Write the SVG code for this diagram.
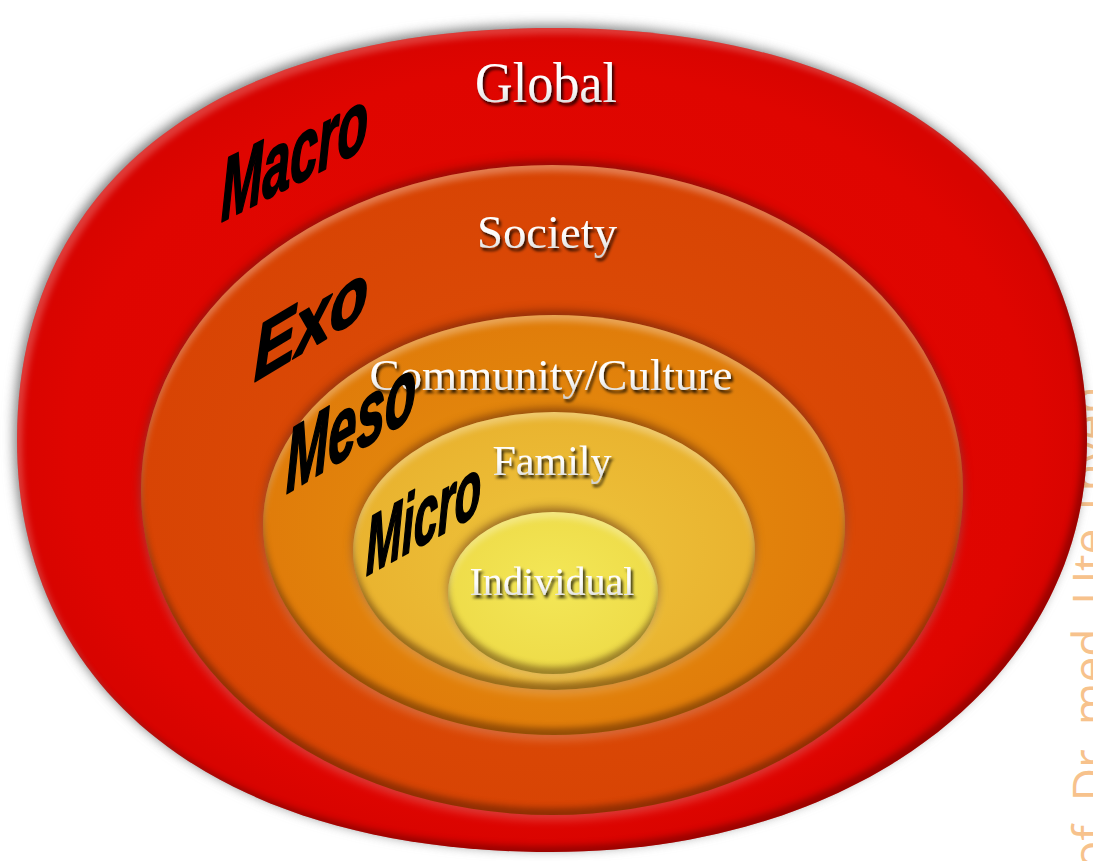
<svg xmlns="http://www.w3.org/2000/svg" width="1093" height="861" viewBox="0 0 1093 861">
  <defs>
    <style>
      .ser { font-family: "Liberation Serif", "Times New Roman", serif; text-anchor: middle; fill: url(#txtg); filter: url(#tsh); }
      .lv { font-family: "Liberation Sans Narrow", "Liberation Sans", Arial, sans-serif; font-weight: bold; font-style: italic; fill: #000; stroke: #000; stroke-width: 2.2; stroke-linejoin: round; }
      .wm { font-family: "Open Sans", "Liberation Sans", sans-serif; font-size: 46px; fill: #f7c28c; }
    </style>
    <linearGradient id="txtg" x1="0" y1="0" x2="0" y2="1">
      <stop offset="0" stop-color="#ffffff"/>
      <stop offset="0.55" stop-color="#fbfbfb"/>
      <stop offset="1" stop-color="#cfcfcf"/>
    </linearGradient>
    <radialGradient id="gRed" cx="0.5" cy="0.5" r="0.5">
      <stop offset="0" stop-color="#e20a02"/>
      <stop offset="0.9" stop-color="#df0500"/>
      <stop offset="1" stop-color="#d80400"/>
    </radialGradient>
    <radialGradient id="gSoc" cx="0.5" cy="0.5" r="0.5">
      <stop offset="0" stop-color="#de5008"/>
      <stop offset="1" stop-color="#d84404"/>
    </radialGradient>
    <radialGradient id="gCom" cx="0.5" cy="0.5" r="0.5">
      <stop offset="0" stop-color="#e6920f"/>
      <stop offset="1" stop-color="#e07c0a"/>
    </radialGradient>
    <radialGradient id="gFam" cx="0.5" cy="0.5" r="0.5">
      <stop offset="0" stop-color="#eec43c"/>
      <stop offset="1" stop-color="#e9b32f"/>
    </radialGradient>
    <radialGradient id="gInd" cx="0.5" cy="0.45" r="0.55">
      <stop offset="0" stop-color="#f3e757"/>
      <stop offset="1" stop-color="#eedb48"/>
    </radialGradient>
    <filter id="tsh" x="-10%" y="-30%" width="125%" height="170%">
      <feDropShadow dx="2" dy="3" stdDeviation="1.4" flood-color="#000" flood-opacity="0.85"/>
    </filter>
    <filter id="outer" x="-5%" y="-6%" width="110%" height="112%" color-interpolation-filters="sRGB">
      <feGaussianBlur in="SourceAlpha" stdDeviation="6" result="blur"/>
      <feOffset in="blur" dx="-3" dy="-3" result="sh"/>
      <feFlood flood-color="#555" flood-opacity="0.75"/>
      <feComposite in2="sh" operator="in" result="shadow"/>
      <feGaussianBlur in="SourceAlpha" stdDeviation="3" result="b2"/>
      <feOffset in="b2" dx="5" dy="6" result="o2"/>
      <feComposite in="SourceAlpha" in2="o2" operator="out" result="topRim"/>
      <feFlood flood-color="#ffffff" flood-opacity="0.22"/>
      <feComposite in2="topRim" operator="in" result="hl"/>
      <feOffset in="b2" dx="-5" dy="-6" result="o3"/>
      <feComposite in="SourceAlpha" in2="o3" operator="out" result="botRim"/>
      <feFlood flood-color="#400000" flood-opacity="0.4"/>
      <feComposite in2="botRim" operator="in" result="dk"/>
      <feMerge>
        <feMergeNode in="shadow"/>
        <feMergeNode in="SourceGraphic"/>
        <feMergeNode in="hl"/>
        <feMergeNode in="dk"/>
      </feMerge>
    </filter>
    <filter id="bev" x="-12%" y="-15%" width="124%" height="130%" color-interpolation-filters="sRGB">
      <feGaussianBlur in="SourceAlpha" stdDeviation="5" result="blur"/>
      <feOffset in="blur" dy="-4" result="up"/>
      <feFlood flood-color="#3a0800" flood-opacity="0.5"/>
      <feComposite in2="up" operator="in" result="shadowUp"/>
      <feOffset in="blur" dy="5" result="down"/>
      <feFlood flood-color="#ffffff" flood-opacity="0.22"/>
      <feComposite in2="down" operator="in" result="glowDown"/>
      <feGaussianBlur in="SourceAlpha" stdDeviation="3" result="b2"/>
      <feOffset in="b2" dy="6" result="o2"/>
      <feComposite in="SourceAlpha" in2="o2" operator="out" result="topRim"/>
      <feFlood flood-color="#ffffff" flood-opacity="0.3"/>
      <feComposite in2="topRim" operator="in" result="hl"/>
      <feOffset in="b2" dy="-7" result="o3"/>
      <feComposite in="SourceAlpha" in2="o3" operator="out" result="botRim"/>
      <feFlood flood-color="#3a1400" flood-opacity="0.45"/>
      <feComposite in2="botRim" operator="in" result="dk"/>
      <feMerge>
        <feMergeNode in="shadowUp"/>
        <feMergeNode in="glowDown"/>
        <feMergeNode in="SourceGraphic"/>
        <feMergeNode in="hl"/>
        <feMergeNode in="dk"/>
      </feMerge>
    </filter>
  </defs>

  <rect x="0" y="0" width="1093" height="861" fill="#ffffff"/>

  <g id="watermark">
    <text class="wm" transform="translate(1106,915) rotate(-90)">Prof. Dr. med. Ute Thyen</text>
  </g>

  <g id="global">
    <path d="M 1087 440 C 1087 674, 862 852, 552 852 C 226 852, 17 698, 17 440 C 17 182, 218 28, 552 28 C 886 28, 1087 182, 1087 440 Z" fill="url(#gRed)" filter="url(#outer)"/>
    <text class="ser" x="546" y="102" font-size="56" textLength="142" lengthAdjust="spacingAndGlyphs">Global</text>
  </g>

  <g id="society">
    <ellipse cx="552" cy="490" rx="411" ry="325" fill="url(#gSoc)" filter="url(#bev)"/>
    <text class="ser" x="547" y="248" font-size="47" textLength="140" lengthAdjust="spacingAndGlyphs">Society</text>
  </g>

  <g id="community">
    <ellipse cx="554" cy="525" rx="291" ry="210" fill="url(#gCom)" filter="url(#bev)"/>
    <text class="ser" x="551" y="390" font-size="45" textLength="363" lengthAdjust="spacingAndGlyphs">Community/Culture</text>
  </g>

  <g id="family">
    <ellipse cx="554" cy="551" rx="201" ry="139" fill="url(#gFam)" filter="url(#bev)"/>
    <text class="ser" x="552" y="475" font-size="42" textLength="119" lengthAdjust="spacingAndGlyphs">Family</text>
  </g>

  <g id="individual">
    <ellipse cx="553" cy="593" rx="105" ry="81" fill="url(#gInd)" filter="url(#bev)"/>
    <text class="ser" x="552" y="595" font-size="40" textLength="165" lengthAdjust="spacingAndGlyphs">Individual</text>
  </g>

  <g id="levels">
    <text class="lv" transform="translate(221,222) skewY(-27)" font-size="88" textLength="147" lengthAdjust="spacingAndGlyphs">Macro</text>
    <text class="lv" transform="translate(254,382) skewY(-31)" font-size="77" textLength="114" lengthAdjust="spacingAndGlyphs">Exo</text>
    <text class="lv" transform="translate(286,494) skewY(-31)" font-size="90" textLength="130" lengthAdjust="spacingAndGlyphs">Meso</text>
    <text class="lv" transform="translate(366,576) skewY(-29)" font-size="82" textLength="115" lengthAdjust="spacingAndGlyphs">Micro</text>
  </g>

  <g id="connectors"></g>
</svg>
